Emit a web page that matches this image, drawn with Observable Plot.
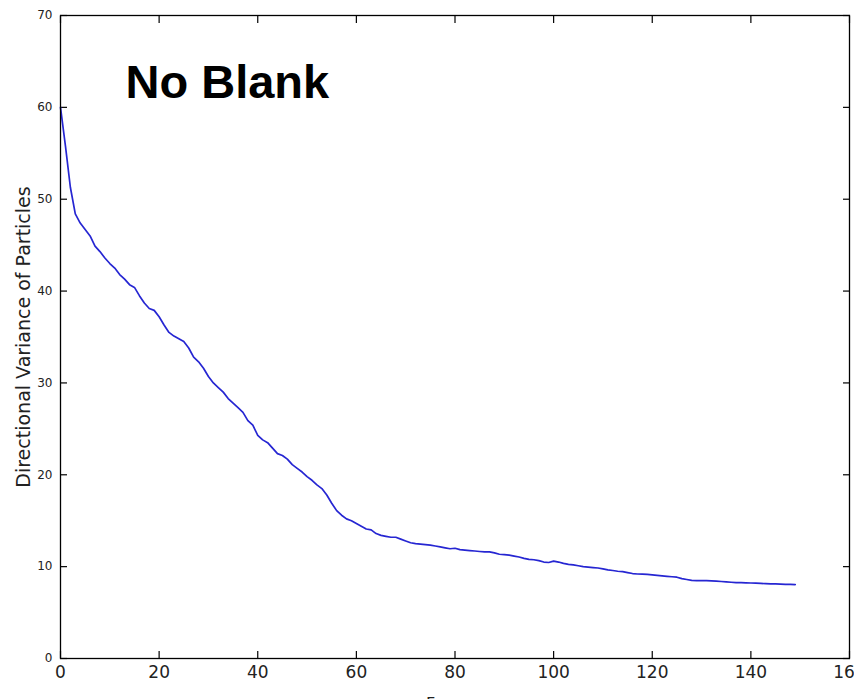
<!DOCTYPE html>
<html>
<head>
<meta charset="utf-8">
<script src="https://cdn.jsdelivr.net/npm/d3@7"></script>
<script src="https://cdn.jsdelivr.net/npm/@observablehq/plot@0.6"></script>
<style>
  html, body { margin: 0; padding: 0; background: #fff; overflow: hidden; }
  #chart svg { display: block; overflow: visible; }
</style>
</head>
<body>
<div id="chart"></div>
<script>
// Directional variance of particles per frame (frames 0..149)
const variance = [
  60.0, 55.8, 51.3, 48.4, 47.4, 46.7, 46.0, 44.9, 44.3, 43.6,
  43.0, 42.5, 41.8, 41.3, 40.7, 40.4, 39.5, 38.7, 38.1, 37.9,
  37.2, 36.3, 35.5, 35.1, 34.8, 34.5, 33.8, 32.8, 32.3, 31.6,
  30.7, 30.0, 29.5, 29.0, 28.3, 27.8, 27.3, 26.8, 25.9, 25.4,
  24.3, 23.8, 23.5, 22.9, 22.3, 22.1, 21.7, 21.1, 20.7, 20.3,
  19.8, 19.4, 18.9, 18.5, 17.8, 16.9, 16.1, 15.6, 15.2, 15.0,
  14.7, 14.4, 14.1, 14.0, 13.6, 13.4, 13.3, 13.2, 13.2, 13.0,
  12.8, 12.6, 12.5, 12.45, 12.4, 12.35, 12.25, 12.15, 12.05, 11.95,
  12.0, 11.85, 11.8, 11.75, 11.7, 11.65, 11.6, 11.6, 11.5, 11.35,
  11.3, 11.25, 11.15, 11.05, 10.9, 10.8, 10.75, 10.65, 10.5, 10.45,
  10.6, 10.5, 10.35, 10.25, 10.2, 10.1, 10.0, 9.95, 9.9, 9.85,
  9.75, 9.65, 9.58, 9.5, 9.45, 9.35, 9.25, 9.2, 9.18, 9.15,
  9.1, 9.05, 9.0, 8.95, 8.9, 8.85, 8.7, 8.6, 8.5, 8.48,
  8.47, 8.47, 8.45, 8.42, 8.38, 8.35, 8.3, 8.25, 8.25, 8.24,
  8.22, 8.2, 8.17, 8.15, 8.13, 8.12, 8.1, 8.08, 8.06, 8.05
];
const xTicks = [0, 20, 40, 60, 80, 100, 120, 140, 160];
const yTicks = [0, 10, 20, 30, 40, 50, 60, 70];
const titleText = "No Blank";
const xLabel = "Frames";
const yLabel = "Directional Variance of Particles";

const font = "DejaVu Sans, sans-serif";
const tickLen = 7;

const chart = Plot.plot({
  width: 854,
  height: 699,
  marginLeft: 60,
  marginRight: 5,
  marginTop: 15,
  marginBottom: 41,
  style: { fontFamily: font, background: "#fff", color: "#000" },
  x: { domain: [0, 160] },
  y: { domain: [0, 70] },
  marks: [
    // tick labels
    Plot.axisX({ ticks: xTicks, tickSize: 0, tickPadding: 7, fontSize: 17, label: null, color: "#222" }),
    Plot.axisY({ ticks: yTicks, tickSize: 0, tickPadding: 8, fontSize: 12, label: null, color: "#222" }),
    // inward ticks on all four sides (matplotlib classic style)
    Plot.axisX({ ticks: xTicks, anchor: "bottom", tickSize: tickLen, dy: -tickLen, text: null, label: null, stroke: "#000", strokeWidth: 1.2 }),
    Plot.axisX({ ticks: xTicks, anchor: "top", tickSize: tickLen, dy: tickLen, text: null, label: null, stroke: "#000", strokeWidth: 1.2 }),
    Plot.axisY({ ticks: yTicks, anchor: "left", tickSize: tickLen, dx: tickLen, text: null, label: null, stroke: "#000", strokeWidth: 1.2 }),
    Plot.axisY({ ticks: yTicks, anchor: "right", tickSize: tickLen, dx: -tickLen, text: null, label: null, stroke: "#000", strokeWidth: 1.2 }),
    Plot.line(variance, { x: (d, i) => i, y: d => d, stroke: "#2626d2", strokeWidth: 1.7 }),
    Plot.frame({ stroke: "#000", strokeWidth: 1.3 }),
    Plot.text([titleText], {
      frameAnchor: "top-left", text: d => d, textAnchor: "start", lineAnchor: "top",
      dx: 65, dy: 49, fontSize: 47, fontWeight: "bold",
      fontFamily: "Liberation Sans, Arial, sans-serif", fill: "#000"
    }),
    Plot.text([xLabel], {
      frameAnchor: "bottom", text: d => d, textAnchor: "middle", lineAnchor: "top",
      dy: 39, fontSize: 16, fill: "#222"
    }),
    Plot.text([yLabel], {
      frameAnchor: "left", text: d => d, textAnchor: "middle", lineAnchor: "middle", rotate: -90,
      dx: -37, fontSize: 19, fill: "#222"
    })
  ]
});
document.getElementById("chart").append(chart);
</script>
</body>
</html>
